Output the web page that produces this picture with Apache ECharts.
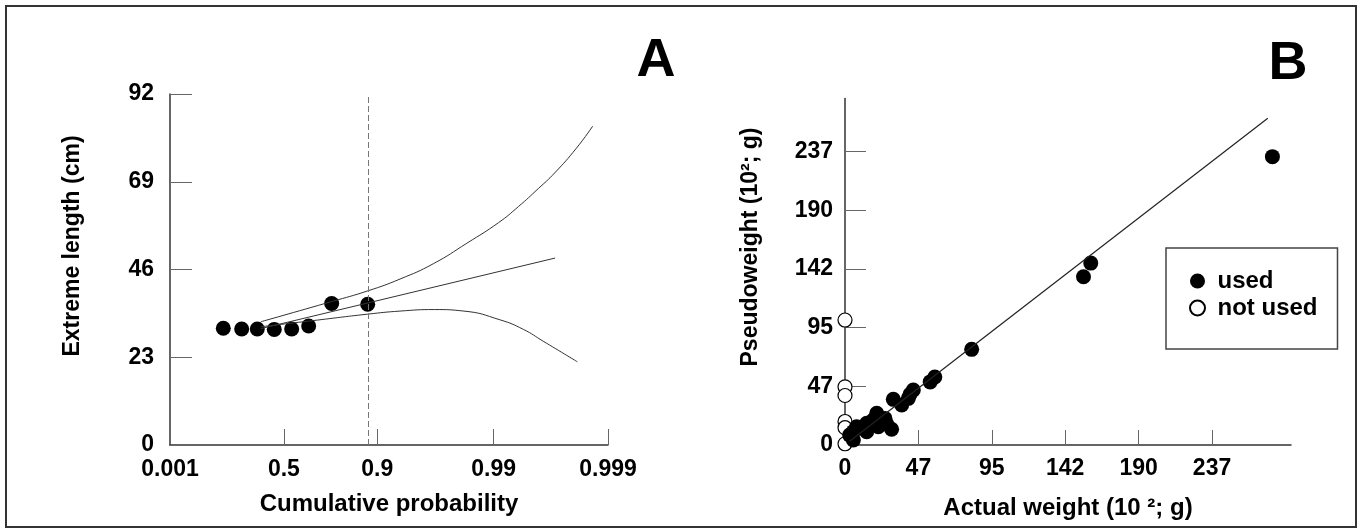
<!DOCTYPE html>
<html>
<head>
<meta charset="utf-8">
<script src="https://cdn.jsdelivr.net/npm/echarts@6/dist/echarts.min.js"></script>
<style>
html, body { margin: 0; padding: 0; background: #fff; }
#chart { width: 1361px; height: 531px; }
</style>
</head>
<body>
<div id="chart"></div>
<script>
// panel A -- x is the Gumbel reduced variate, -ln(-ln p)
const probTicks = [0.001, 0.5, 0.9, 0.99, 0.999];
const lengthTicks = [0, 23, 46, 69, 92];
const obsVariate = [-0.857, -0.486, -0.171, 0.172, 0.523, 0.866, 1.330, 2.057];
const obsLength = [30.6, 30.4, 30.4, 30.3, 30.4, 31.2, 37.1, 36.9];
const fitLine = [[-0.1, 30.5], [5.84, 49.0]];
const upperBand = [[-0.1, 32.3], [1.33, 37.6], [2.06, 40.4], [2.71, 43.5], [3.38, 47.5],
  [4.06, 52.9], [4.7, 58.3], [5.1, 62.5], [5.5, 67.2], [5.83, 71.3], [6.27, 77.8], [6.6, 83.6]];
const lowerBand = [[-0.1, 31.0], [0.95, 32.6], [2.06, 34.3], [2.71, 35.1], [3.4, 35.5],
  [4.0, 35.1], [4.73, 32.8], [5.2, 30.3], [5.6, 27.2], [6.29, 21.8]];
const markVariate = 2.06;

// panel B
const weightTicks = [0, 47.4, 94.8, 142.2, 189.6, 237];
const usedActual = [276, 154, 158.7, 81.8, 55, 58, 44.1, 42, 40.9, 36.6, 31.2, 30.1, 25.8, 27,
  20.5, 21.5, 18, 14, 14, 7.5, 5.4, 5.4, 3];
const usedPseudo = [233, 136, 147, 77.3, 51, 55, 44.4, 41, 37.7, 32.3, 36.9, 12.7, 21.5, 17,
  25.6, 14.8, 20, 17.5, 10.8, 14.8, 10.8, 4.0, 8];
const notUsedActual = [0, 0, 0, 0, 0, 0];
const notUsedPseudo = [101, 47, 40, 19, 14, 1];
const regLine = [[3, 3], [273, 264]];

const gumbel = p => -Math.log(-Math.log(p));
const font = 'Liberation Sans';
const axisCol = '#333';
const tickCol = '#666';

const chart = echarts.init(document.getElementById('chart'));

const lbl = (margin) => ({
  color: '#000', fontFamily: font, fontWeight: 'bold', fontSize: 23, margin: margin,
});
const nameStyle = { color: '#000', fontFamily: font, fontWeight: 'bold', fontSize: 24 };

const option = {
  backgroundColor: '#fff',
  animation: false,
  grid: [
    { left: 170, top: 94, width: 438, height: 351, outerBoundsMode: 'none' },
    { left: 845, top: 98.5, width: 446, height: 346.5, outerBoundsMode: 'none' },
  ],
  xAxis: [
    {
      gridIndex: 0, type: 'value',
      min: gumbel(0.001), max: gumbel(0.999),
      axisLine: { onZero: false, lineStyle: { color: axisCol, width: 1.5 } },
      axisTick: { inside: true, length: 16, lineStyle: { color: tickCol },
        customValues: probTicks.slice(1).map(gumbel) },
      axisLabel: Object.assign(lbl(13), {
        customValues: probTicks.map(gumbel),
        formatter: v => {
          const i = probTicks.findIndex(p => Math.abs(gumbel(p) - v) < 1e-6);
          return i < 0 ? '' : String(probTicks[i]);
        },
      }),
      splitLine: { show: false },
      name: 'Cumulative probability', nameLocation: 'middle', nameGap: 47,
      nameTextStyle: nameStyle,
    },
    {
      gridIndex: 1, type: 'value', min: 0, max: 288,
      axisLine: { onZero: false, lineStyle: { color: axisCol, width: 1.5 } },
      axisTick: { inside: true, length: 15, lineStyle: { color: tickCol },
        customValues: weightTicks.slice(1) },
      axisLabel: Object.assign(lbl(12), {
        customValues: weightTicks, formatter: v => String(Math.round(v)),
      }),
      splitLine: { show: false },
      name: 'Actual weight (10 ²; g)', nameLocation: 'middle', nameGap: 51,
      nameTextStyle: nameStyle,
    },
  ],
  yAxis: [
    {
      gridIndex: 0, type: 'value', min: 0, max: 92, interval: 23,
      axisLine: { show: true, onZero: false, lineStyle: { color: axisCol, width: 1.5 } },
      axisTick: { show: true, inside: true, length: 22, lineStyle: { color: tickCol } },
      axisLabel: lbl(16),
      splitLine: { show: false },
    },
    {
      gridIndex: 1, type: 'value', min: 0, max: 280,
      axisLine: { show: true, onZero: false, lineStyle: { color: axisCol, width: 1.5 } },
      axisTick: { show: true, inside: true, length: 21, lineStyle: { color: tickCol },
        customValues: weightTicks.slice(1) },
      axisLabel: Object.assign(lbl(12), {
        customValues: weightTicks, formatter: v => String(Math.round(v)),
      }),
      splitLine: { show: false },
    },
  ],
  legend: {
    data: ['used', 'not used'],
    orient: 'vertical', left: 1166, top: 248,
    padding: [21, 20, 29, 23],
    itemWidth: 30, itemHeight: 15, itemGap: 3,
    borderColor: '#444', borderWidth: 1.5,
    selectedMode: false,
    textStyle: { color: '#000', fontFamily: font, fontWeight: 'bold', fontSize: 24 },
  },
  series: [
    {
      type: 'line', xAxisIndex: 0, yAxisIndex: 0, data: upperBand,
      smooth: 0.5, showSymbol: false, silent: true,
      lineStyle: { color: '#333', width: 1 },
      markLine: {
        symbol: 'none', silent: true, label: { show: false },
        lineStyle: { color: '#777', width: 1, type: [6, 3] },
        data: [[{ coord: [markVariate, 0] }, { coord: [markVariate, 92] }]],
      },
    },
    {
      type: 'line', xAxisIndex: 0, yAxisIndex: 0, data: fitLine,
      showSymbol: false, silent: true, lineStyle: { color: '#333', width: 1 },
    },
    {
      type: 'line', xAxisIndex: 0, yAxisIndex: 0, data: lowerBand,
      smooth: 0.5, showSymbol: false, silent: true,
      lineStyle: { color: '#333', width: 1 },
    },
    {
      type: 'scatter', xAxisIndex: 0, yAxisIndex: 0,
      data: obsVariate.map((x, i) => [x, obsLength[i]]),
      symbolSize: 15, itemStyle: { color: '#000', opacity: 1 },
    },
    {
      type: 'line', xAxisIndex: 1, yAxisIndex: 1, data: regLine,
      showSymbol: false, silent: true, lineStyle: { color: '#222', width: 1.2 },
    },
    {
      name: 'not used', type: 'scatter', xAxisIndex: 1, yAxisIndex: 1,
      data: notUsedActual.map((x, i) => [x, notUsedPseudo[i]]),
      symbolSize: 14,
      itemStyle: { color: '#fff', borderColor: '#000', borderWidth: 1.2, opacity: 1 },
    },
    {
      name: 'used', type: 'scatter', xAxisIndex: 1, yAxisIndex: 1,
      data: usedActual.map((x, i) => [x, usedPseudo[i]]),
      symbolSize: 15, itemStyle: { color: '#000', opacity: 1 },
    },
  ],
  graphic: [
    { type: 'rect', shape: { x: 6, y: 6, width: 1350, height: 521 },
      style: { fill: 'none', stroke: '#333', lineWidth: 2 }, silent: true },
    { type: 'text', x: 656, y: 61,
      style: { text: 'A', fill: '#000', fontFamily: font, fontWeight: 'bold', fontSize: 54,
        align: 'center', verticalAlign: 'middle' } },
    { type: 'text', x: 1288, y: 64,
      style: { text: 'B', fill: '#000', fontFamily: font, fontWeight: 'bold', fontSize: 54,
        align: 'center', verticalAlign: 'middle' } },
    { type: 'text', x: 73, y: 246, rotation: Math.PI / 2,
      style: { text: 'Extreme length (cm)', fill: '#000', fontFamily: font, fontWeight: 'bold',
        fontSize: 23, align: 'center', verticalAlign: 'middle' } },
    { type: 'text', x: 751, y: 247, rotation: Math.PI / 2,
      style: { text: 'Pseudoweight (10²; g)', fill: '#000', fontFamily: font, fontWeight: 'bold',
        fontSize: 23, align: 'center', verticalAlign: 'middle' } },
  ],
};

chart.setOption(option);
</script>
</body>
</html>
